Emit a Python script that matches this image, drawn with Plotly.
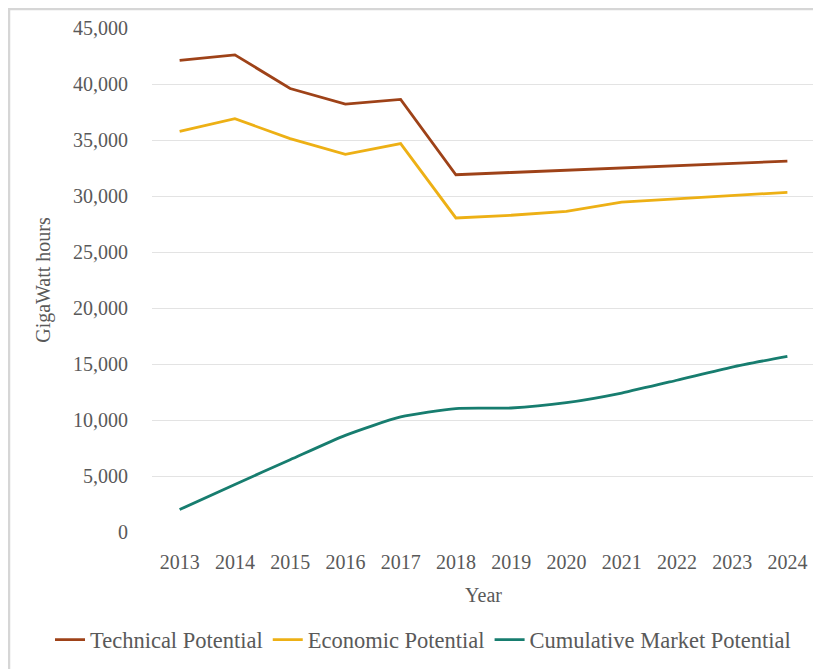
import plotly.graph_objects as go

years = ["2013", "2014", "2015", "2016", "2017", "2018", "2019", "2020", "2021", "2022", "2023", "2024"]
technical = [42100, 42600, 39600, 38200, 38630, 31900, 32100, 32300, 32500, 32700, 32950, 33120]
economic = [35780, 36900, 35120, 33720, 34680, 28040, 28280, 28630, 29450, 29730, 30060, 30330]
cumulative = [2000, 4250, 6450, 8630, 10270, 11020, 11070, 11550, 12410, 13550, 14730, 15690]
y_ticks = [0, 5000, 10000, 15000, 20000, 25000, 30000, 35000, 40000, 45000]
y_tick_text = ["0", "5,000", "10,000", "15,000", "20,000", "25,000", "30,000", "35,000", "40,000", "45,000"]

FONT = "Liberation Serif"
TXT = "#595959"

W, H = 813, 661
L, R, T, B = 144, 6, 20, 137
pw, ph = W - L - R, H - T - B

fig = go.Figure()
fig.add_trace(go.Scatter(x=years, y=technical, mode="lines", name="Technical Potential",
                         line=dict(color="#9E4218", width=2.8)))
fig.add_trace(go.Scatter(x=years, y=economic, mode="lines", name="Economic Potential",
                         line=dict(color="#EDB015", width=2.8)))
fig.add_trace(go.Scatter(x=years, y=cumulative, mode="lines", name="Cumulative Market Potential",
                         line=dict(color="#177D6F", width=2.8, shape="spline", smoothing=0.6)))

fig.update_layout(
    width=W, height=H,
    margin=dict(l=L, r=R, t=T, b=B, autoexpand=False),
    paper_bgcolor="white", plot_bgcolor="white",
    font=dict(family=FONT, size=20, color=TXT),
    showlegend=True,
    legend=dict(orientation="h", xref="paper", x=(42 - L) / pw, xanchor="left",
                yref="paper", y=(ph + T - 632) / ph, yanchor="middle",
                font=dict(family=FONT, size=22.5, color=TXT),
                tracegroupgap=0, bgcolor="rgba(0,0,0,0)"),
    xaxis=dict(type="category", range=[-0.5, 11.5], showgrid=False, zeroline=False,
               showline=False, ticks="outside", ticklen=12, tickcolor="rgba(0,0,0,0)",
               tickfont=dict(family=FONT, size=20, color=TXT),
               title=dict(text="Year", font=dict(family=FONT, size=20, color=TXT), standoff=15)),
    yaxis=dict(range=[0, 45000], tickvals=y_ticks, ticktext=y_tick_text,
               showgrid=True, gridcolor="#e3e3e3", gridwidth=1.2, zeroline=False,
               showline=False, ticks="outside", ticklen=19, tickcolor="rgba(0,0,0,0)",
               tickfont=dict(family=FONT, size=20, color=TXT),
               title=dict(text="GigaWatt hours", font=dict(family=FONT, size=20, color=TXT), standoff=17)),
)

fig.add_shape(type="rect", xref="paper", yref="paper",
              x0=(1 - L) / pw, x1=(W + 20 - L) / pw,
              y0=(ph + T - H - 20) / ph, y1=(ph + T - 1) / ph,
              line=dict(color="#d6d6d6", width=2.5), fillcolor="rgba(0,0,0,0)", layer="below")

fig.write_html("out.html")
